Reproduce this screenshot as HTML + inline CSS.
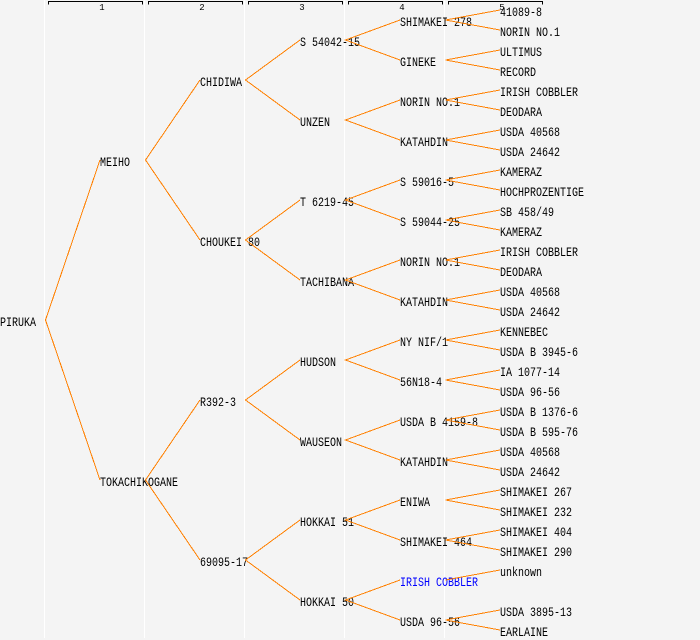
<!DOCTYPE html>
<html>
<head>
<meta charset="utf-8">
<style>
html,body{margin:0;padding:0;background:#f4f4f4;}
svg{display:block;}
text{font-family:"Liberation Mono","DejaVu Sans Mono",monospace;}
</style>
</head>
<body>
<svg width="700" height="640" viewBox="0 0 700 640" xmlns="http://www.w3.org/2000/svg">
<rect x="0" y="0" width="700" height="640" fill="#f4f4f4"/>
<!-- column separators -->
<g fill="#ffffff">
<rect x="44" y="0" width="1" height="638"/>
<rect x="144" y="0" width="1" height="638"/>
<rect x="244" y="0" width="1" height="638"/>
<rect x="344" y="0" width="1" height="638"/>
<rect x="444" y="0" width="1" height="638"/>
</g>
<!-- ruler -->
<g stroke="#000" stroke-width="1" fill="none" shape-rendering="crispEdges">
<path d="M48.5 4.5 V1.5 H142.5 V4.5"/>
<path d="M148.5 4.5 V1.5 H242.5 V4.5"/>
<path d="M248.5 4.5 V1.5 H342.5 V4.5"/>
<path d="M348.5 4.5 V1.5 H442.5 V4.5"/>
<path d="M448.5 4.5 V1.5 H542.5 V4.5"/>
</g>
<g font-size="9" fill="#000" text-anchor="middle">
<text x="102" y="10">1</text>
<text x="202" y="10">2</text>
<text x="302" y="10">3</text>
<text x="402" y="10">4</text>
<text x="502" y="10">5</text>
</g>
<!-- labels -->
<g font-size="13" fill="#000">
<text x="0" y="326" textLength="36" lengthAdjust="spacingAndGlyphs">PIRUKA</text>
<text x="100" y="166" textLength="30" lengthAdjust="spacingAndGlyphs">MEIHO</text>
<text x="100" y="486" textLength="78" lengthAdjust="spacingAndGlyphs">TOKACHIKOGANE</text>
<text x="200" y="86" textLength="42" lengthAdjust="spacingAndGlyphs">CHIDIWA</text>
<text x="200" y="246" textLength="60" lengthAdjust="spacingAndGlyphs">CHOUKEI 80</text>
<text x="200" y="406" textLength="36" lengthAdjust="spacingAndGlyphs">R392-3</text>
<text x="200" y="566" textLength="48" lengthAdjust="spacingAndGlyphs">69095-17</text>
<text x="300" y="46" textLength="60" lengthAdjust="spacingAndGlyphs">S 54042-15</text>
<text x="300" y="126" textLength="30" lengthAdjust="spacingAndGlyphs">UNZEN</text>
<text x="300" y="206" textLength="54" lengthAdjust="spacingAndGlyphs">T 6219-45</text>
<text x="300" y="286" textLength="54" lengthAdjust="spacingAndGlyphs">TACHIBANA</text>
<text x="300" y="366" textLength="36" lengthAdjust="spacingAndGlyphs">HUDSON</text>
<text x="300" y="446" textLength="42" lengthAdjust="spacingAndGlyphs">WAUSEON</text>
<text x="300" y="526" textLength="54" lengthAdjust="spacingAndGlyphs">HOKKAI 51</text>
<text x="300" y="606" textLength="54" lengthAdjust="spacingAndGlyphs">HOKKAI 50</text>
<text x="400" y="26" textLength="72" lengthAdjust="spacingAndGlyphs">SHIMAKEI 278</text>
<text x="400" y="66" textLength="36" lengthAdjust="spacingAndGlyphs">GINEKE</text>
<text x="400" y="106" textLength="60" lengthAdjust="spacingAndGlyphs">NORIN NO.1</text>
<text x="400" y="146" textLength="48" lengthAdjust="spacingAndGlyphs">KATAHDIN</text>
<text x="400" y="186" textLength="54" lengthAdjust="spacingAndGlyphs">S 59016-5</text>
<text x="400" y="226" textLength="60" lengthAdjust="spacingAndGlyphs">S 59044-25</text>
<text x="400" y="266" textLength="60" lengthAdjust="spacingAndGlyphs">NORIN NO.1</text>
<text x="400" y="306" textLength="48" lengthAdjust="spacingAndGlyphs">KATAHDIN</text>
<text x="400" y="346" textLength="48" lengthAdjust="spacingAndGlyphs">NY NIF/1</text>
<text x="400" y="386" textLength="42" lengthAdjust="spacingAndGlyphs">56N18-4</text>
<text x="400" y="426" textLength="78" lengthAdjust="spacingAndGlyphs">USDA B 4159-8</text>
<text x="400" y="466" textLength="48" lengthAdjust="spacingAndGlyphs">KATAHDIN</text>
<text x="400" y="506" textLength="30" lengthAdjust="spacingAndGlyphs">ENIWA</text>
<text x="400" y="546" textLength="72" lengthAdjust="spacingAndGlyphs">SHIMAKEI 464</text>
<text x="400" y="586" textLength="78" lengthAdjust="spacingAndGlyphs" fill="#0000ff">IRISH COBBLER</text>
<text x="400" y="626" textLength="60" lengthAdjust="spacingAndGlyphs">USDA 96-56</text>
<text x="500" y="16" textLength="42" lengthAdjust="spacingAndGlyphs">41089-8</text>
<text x="500" y="36" textLength="60" lengthAdjust="spacingAndGlyphs">NORIN NO.1</text>
<text x="500" y="56" textLength="42" lengthAdjust="spacingAndGlyphs">ULTIMUS</text>
<text x="500" y="76" textLength="36" lengthAdjust="spacingAndGlyphs">RECORD</text>
<text x="500" y="96" textLength="78" lengthAdjust="spacingAndGlyphs">IRISH COBBLER</text>
<text x="500" y="116" textLength="42" lengthAdjust="spacingAndGlyphs">DEODARA</text>
<text x="500" y="136" textLength="60" lengthAdjust="spacingAndGlyphs">USDA 40568</text>
<text x="500" y="156" textLength="60" lengthAdjust="spacingAndGlyphs">USDA 24642</text>
<text x="500" y="176" textLength="42" lengthAdjust="spacingAndGlyphs">KAMERAZ</text>
<text x="500" y="196" textLength="84" lengthAdjust="spacingAndGlyphs">HOCHPROZENTIGE</text>
<text x="500" y="216" textLength="54" lengthAdjust="spacingAndGlyphs">SB 458/49</text>
<text x="500" y="236" textLength="42" lengthAdjust="spacingAndGlyphs">KAMERAZ</text>
<text x="500" y="256" textLength="78" lengthAdjust="spacingAndGlyphs">IRISH COBBLER</text>
<text x="500" y="276" textLength="42" lengthAdjust="spacingAndGlyphs">DEODARA</text>
<text x="500" y="296" textLength="60" lengthAdjust="spacingAndGlyphs">USDA 40568</text>
<text x="500" y="316" textLength="60" lengthAdjust="spacingAndGlyphs">USDA 24642</text>
<text x="500" y="336" textLength="48" lengthAdjust="spacingAndGlyphs">KENNEBEC</text>
<text x="500" y="356" textLength="78" lengthAdjust="spacingAndGlyphs">USDA B 3945-6</text>
<text x="500" y="376" textLength="60" lengthAdjust="spacingAndGlyphs">IA 1077-14</text>
<text x="500" y="396" textLength="60" lengthAdjust="spacingAndGlyphs">USDA 96-56</text>
<text x="500" y="416" textLength="78" lengthAdjust="spacingAndGlyphs">USDA B 1376-6</text>
<text x="500" y="436" textLength="78" lengthAdjust="spacingAndGlyphs">USDA B 595-76</text>
<text x="500" y="456" textLength="60" lengthAdjust="spacingAndGlyphs">USDA 40568</text>
<text x="500" y="476" textLength="60" lengthAdjust="spacingAndGlyphs">USDA 24642</text>
<text x="500" y="496" textLength="72" lengthAdjust="spacingAndGlyphs">SHIMAKEI 267</text>
<text x="500" y="516" textLength="72" lengthAdjust="spacingAndGlyphs">SHIMAKEI 232</text>
<text x="500" y="536" textLength="72" lengthAdjust="spacingAndGlyphs">SHIMAKEI 404</text>
<text x="500" y="556" textLength="72" lengthAdjust="spacingAndGlyphs">SHIMAKEI 290</text>
<text x="500" y="576" textLength="42" lengthAdjust="spacingAndGlyphs">unknown</text>
<text x="500" y="616" textLength="72" lengthAdjust="spacingAndGlyphs">USDA 3895-13</text>
<text x="500" y="636" textLength="48" lengthAdjust="spacingAndGlyphs">EARLAINE</text>
</g>
<!-- connectors -->
<g stroke="#ff8000" stroke-width="1" fill="none" shape-rendering="crispEdges">
<path d="M100 160 L45.5 320 L100 480"/>
<path d="M200 80 L145.5 160 L200 240"/>
<path d="M200 400 L145.5 480 L200 560"/>
<path d="M300 40 L245.5 80 L300 120"/>
<path d="M300 200 L245.5 240 L300 280"/>
<path d="M300 360 L245.5 400 L300 440"/>
<path d="M300 520 L245.5 560 L300 600"/>
<path d="M400 20 L345.5 40 L400 60"/>
<path d="M400 100 L345.5 120 L400 140"/>
<path d="M400 180 L345.5 200 L400 220"/>
<path d="M400 260 L345.5 280 L400 300"/>
<path d="M400 340 L345.5 360 L400 380"/>
<path d="M400 420 L345.5 440 L400 460"/>
<path d="M400 500 L345.5 520 L400 540"/>
<path d="M400 580 L345.5 600 L400 620"/>
<path d="M500 10 L445.5 20 L500 30"/>
<path d="M500 50 L445.5 60 L500 70"/>
<path d="M500 90 L445.5 100 L500 110"/>
<path d="M500 130 L445.5 140 L500 150"/>
<path d="M500 170 L445.5 180 L500 190"/>
<path d="M500 210 L445.5 220 L500 230"/>
<path d="M500 250 L445.5 260 L500 270"/>
<path d="M500 290 L445.5 300 L500 310"/>
<path d="M500 330 L445.5 340 L500 350"/>
<path d="M500 370 L445.5 380 L500 390"/>
<path d="M500 410 L445.5 420 L500 430"/>
<path d="M500 450 L445.5 460 L500 470"/>
<path d="M500 490 L445.5 500 L500 510"/>
<path d="M500 530 L445.5 540 L500 550"/>
<path d="M500 570 L445.5 580"/>
<path d="M500 610 L445.5 620 L500 630"/>
</g>
</svg>
</body>
</html>
